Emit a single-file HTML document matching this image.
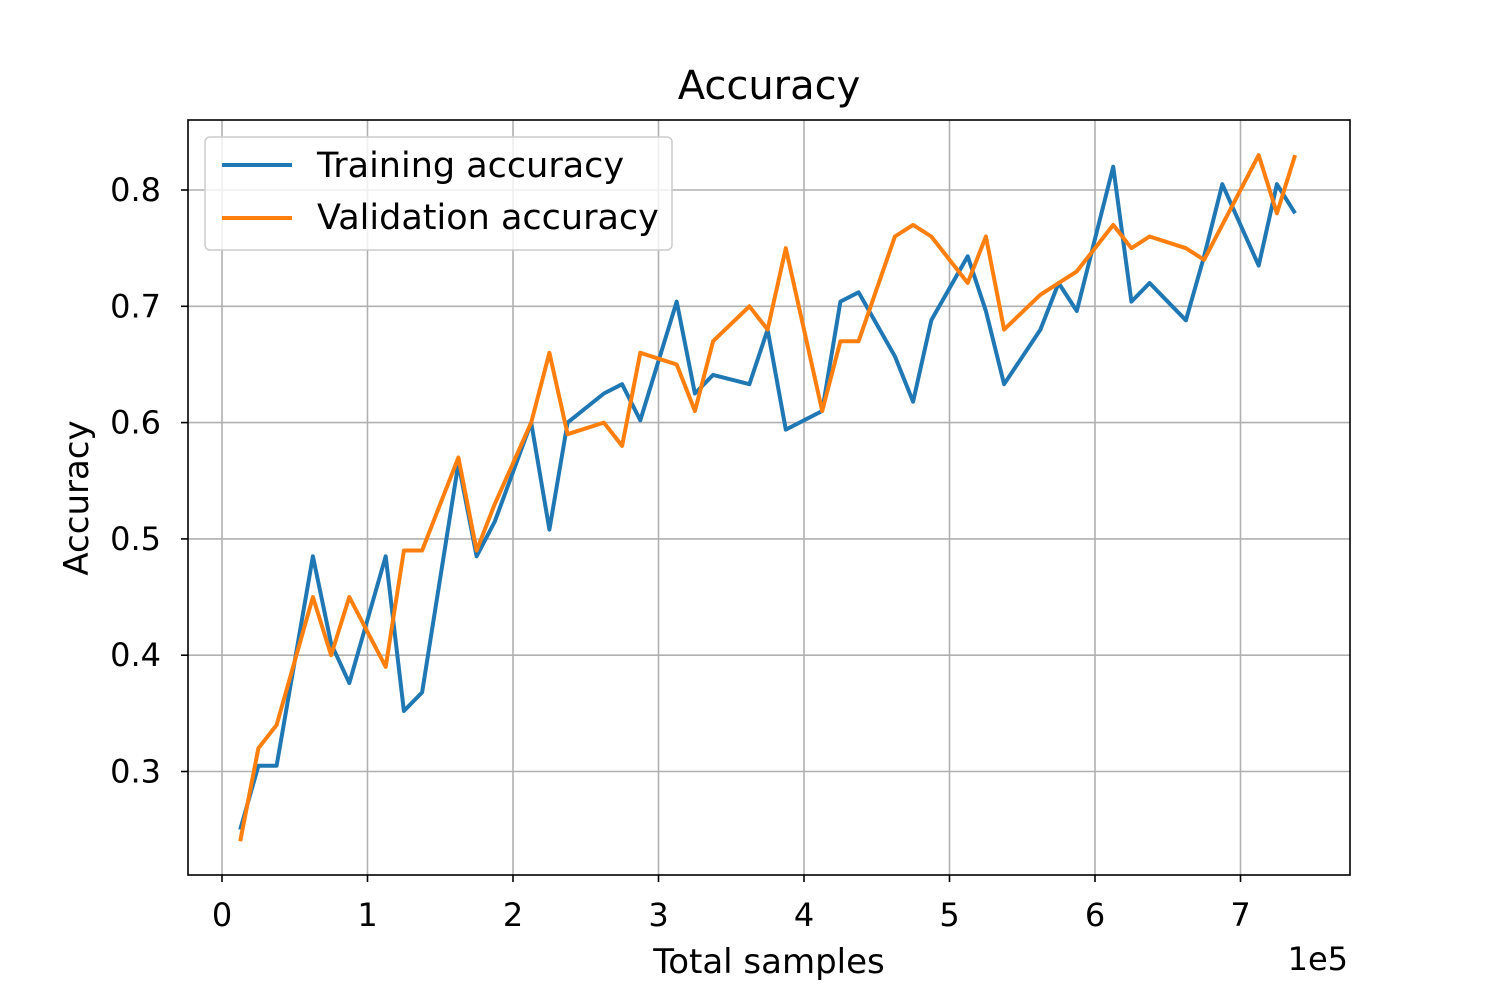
<!DOCTYPE html>
<html><head><meta charset="utf-8"><style>
body{margin:0;background:#fff}
svg text{font-family:"DejaVu Sans","Liberation Sans",sans-serif;fill:#000}
</style></head><body>
<svg id="chart" width="1500" height="1000" xmlns="http://www.w3.org/2000/svg">
<rect width="1500" height="1000" fill="#fff"/>
<g id="grid"></g><g id="ticks"></g><g id="lines"></g>
<rect x="188" y="120" width="1162" height="755" fill="none" stroke="#000" stroke-width="1.6"/>
<text x="769" y="99" font-size="40" text-anchor="middle">Accuracy</text>
<text x="769" y="973" font-size="34" text-anchor="middle">Total samples</text>
<text x="1348" y="970" font-size="32" text-anchor="end">1e5</text>
<text transform="translate(88,498) rotate(-90)" font-size="34" text-anchor="middle">Accuracy</text>
<g>
<rect x="205" y="137" width="467" height="113" rx="5" fill="#fff" fill-opacity="0.8" stroke="#ccc" stroke-width="1.5"/>
<g><line x1="222" y1="165" x2="292" y2="165" stroke="#1f77b4" stroke-width="4"/><text x="317" y="177" font-size="35">Training accuracy</text></g>
<g><line x1="222" y1="218" x2="292" y2="218" stroke="#ff7f0e" stroke-width="4"/><text x="317" y="229" font-size="35">Validation accuracy</text></g>
</g>
</svg>
<script>
const trainSteps=[1,2,3,5,6,7,9,10,11,13,14,15,17,18,19,21,22,23,25,26,27,29,30,31,33,34,35,37,38,39,41,42,43,45,46,47,49,50,51,53,54,55,57,58,59];
const trainAcc=[.25,.305,.305,.485,.41,.376,.485,.352,.368,.565,.485,.515,.6,.508,.6,.625,.633,.602,.704,.625,.641,.633,.68,.594,.61,.704,.712,.657,.618,.688,.743,.696,.633,.68,.72,.696,.82,.704,.72,.688,.743,.805,.735,.805,.78];
const valSteps=[1,2,3,5,6,7,9,10,11,13,14,15,17,18,19,21,22,23,25,26,27,29,30,31,33,34,35,37,38,39,41,42,43,45,47,49,50,51,53,54,57,58,59];
const valAcc=[.24,.32,.34,.45,.40,.45,.39,.49,.49,.57,.49,.53,.60,.66,.59,.60,.58,.66,.65,.61,.67,.70,.68,.75,.61,.67,.67,.76,.77,.76,.72,.76,.68,.71,.73,.77,.75,.76,.75,.74,.83,.78,.83];
const xTicks=[0,1,2,3,4,5,6,7];
const yTicks=[0.3,0.4,0.5,0.6,0.7,0.8];
const stepSize=0.125;
const NS="http://www.w3.org/2000/svg";
const X=v=>222+v*145.5;
const Y=v=>190+(0.8-v)*1163;
const grid=document.getElementById('grid'),ticks=document.getElementById('ticks'),lines=document.getElementById('lines');
function mk(tag,attrs,parent){const e=document.createElementNS(NS,tag);for(const k in attrs)e.setAttribute(k,attrs[k]);parent.appendChild(e);return e;}
xTicks.forEach(t=>{
  const g=mk('line',{x1:X(t),x2:X(t),y1:120,y2:875,stroke:'#b0b0b0','stroke-width':1.6},grid);
  
  
  mk('line',{x1:X(t),x2:X(t),y1:875,y2:882,stroke:'#000','stroke-width':1.6},ticks);
  const tx=mk('text',{x:X(t),y:926,'font-size':32,'text-anchor':'middle'},ticks);
  tx.textContent=t;
  
  
});
yTicks.forEach(t=>{
  const g=mk('line',{x1:188,x2:1350,y1:Y(t),y2:Y(t),stroke:'#b0b0b0','stroke-width':1.6},grid);
  
  
  mk('line',{x1:181,x2:188,y1:Y(t),y2:Y(t),stroke:'#000','stroke-width':1.6},ticks);
  const tx=mk('text',{x:161,y:Y(t)+11,'font-size':32,'text-anchor':'end'},ticks);
  tx.textContent=t.toFixed(1);
  
  
});
function series(steps,vals,color,name){
  const d=steps.map((s,i)=>(i?'L':'M')+X(s*stepSize).toFixed(1)+','+Y(vals[i]).toFixed(1)).join(' ');
  const p=mk('path',{d:d,fill:'none',stroke:color,'stroke-width':4,'stroke-linejoin':'round'},lines);
  
  
}
series(trainSteps,trainAcc,'#1f77b4','training-accuracy-line');
series(valSteps,valAcc,'#ff7f0e','validation-accuracy-line');
</script>
</body></html>
